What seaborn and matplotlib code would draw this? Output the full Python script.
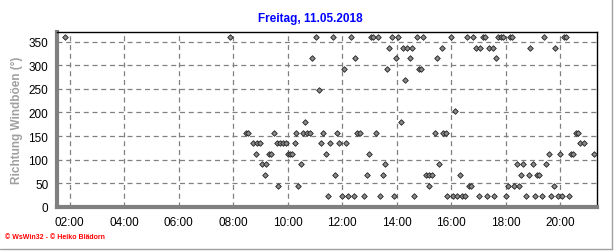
import matplotlib
matplotlib.use("Agg")
import matplotlib.pyplot as plt
import seaborn as sns
import pandas as pd
from matplotlib.ticker import MultipleLocator, FixedLocator
from matplotlib.lines import Line2D

title = "Freitag, 11.05.2018"
ylabel = "Richtung Windböen (°)"
footer = "© WsWin32 - © Heiko Blädorn"

hours = [1.81, 7.90, 8.48, 8.55, 8.73, 8.82, 8.88, 8.99, 9.06, 9.15, 9.21, 9.33, 9.40, 9.48,
         9.60, 9.66, 9.72, 9.83, 9.93, 10.00, 10.07, 10.15, 10.25, 10.32, 10.39, 10.49, 10.58,
         10.65, 10.71, 10.82, 10.90, 11.05, 11.16, 11.24, 11.31, 11.42, 11.49, 11.57, 11.65,
         11.75, 11.82, 11.90, 12.01, 12.08, 12.14, 12.22, 12.34, 12.42, 12.48, 12.56, 12.67,
         12.81, 12.92, 13.00, 13.07, 13.14, 13.25, 13.32, 13.40, 13.48, 13.58, 13.66, 13.73,
         13.83, 13.92, 13.98, 14.05, 14.17, 14.22, 14.32, 14.39, 14.50, 14.56, 14.65, 14.76,
         14.81, 14.90, 14.97, 15.08, 15.17, 15.20, 15.31, 15.42, 15.48, 15.56, 15.67, 15.71,
         15.81, 15.86, 16.01, 16.05, 16.15, 16.23, 16.32, 16.40, 16.49, 16.59, 16.67, 16.74,
         16.80, 16.93, 17.01, 17.06, 17.17, 17.24, 17.31, 17.40, 17.52, 17.59, 17.65, 17.73,
         17.83, 17.91, 18.01, 18.10, 18.16, 18.25, 18.30, 18.42, 18.50, 18.57, 18.64, 18.76,
         18.84, 18.91, 19.01, 19.07, 19.15, 19.24, 19.34, 19.41, 19.48, 19.60, 19.68, 19.76,
         19.82, 19.91, 20.01, 20.06, 20.13, 20.23, 20.34, 20.40, 20.49, 20.60, 20.67, 20.74,
         20.87, 21.25]

directions = [360, 360, 157.5, 157.5, 135, 112.5, 135, 135, 90, 67.5, 90, 112.5, 112.5, 157.5,
              135, 45, 135, 135, 135, 112.5, 112.5, 112.5, 135, 157.5, 45, 90, 157.5,
              180, 157.5, 157.5, 315, 360, 247.5, 135, 157.5, 112.5, 22.5, 135, 360,
              67.5, 157.5, 135, 22.5, 292.5, 135, 22.5, 360, 22.5, 315, 157.5, 157.5,
              22.5, 67.5, 112.5, 360, 360, 157.5, 360, 22.5, 67.5, 90, 292.5, 337.5,
              360, 22.5, 315, 360, 180, 337.5, 270, 337.5, 315, 337.5, 22.5, 360,
              292.5, 292.5, 360, 67.5, 45, 67.5, 67.5, 157.5, 315, 90, 337.5, 157.5,
              157.5, 22.5, 360, 22.5, 202.5, 22.5, 67.5, 22.5, 22.5, 360, 45, 45,
              360, 337.5, 22.5, 337.5, 360, 360, 22.5, 337.5, 337.5, 22.5, 315, 360,
              360, 360, 22.5, 45, 360, 360, 45, 90, 45, 67.5, 90, 22.5,
              67.5, 337.5, 90, 22.5, 67.5, 67.5, 22.5, 360, 90, 112.5, 22.5, 45,
              337.5, 22.5, 112.5, 22.5, 360, 360, 22.5, 112.5, 112.5, 157.5, 157.5, 135,
              135, 112.5]

xticks = [2, 4, 6, 8, 10, 12, 14, 16, 18, 20]
xticklabels = ["02:00", "04:00", "06:00", "08:00", "10:00", "12:00", "14:00", "16:00", "18:00", "20:00"]
yticks = [0, 50, 100, 150, 200, 250, 300, 350]

df = pd.DataFrame({"Zeit": hours, "Richtung": directions})

sns.set_style("white")
plt.rcParams["font.family"] = ["Liberation Sans", "DejaVu Sans"]

fig = plt.figure(figsize=(6.16, 2.53), dpi=100)
ax = fig.add_axes([0.092, 0.179, 0.877, 0.689])

sns.scatterplot(data=df, x="Zeit", y="Richtung", ax=ax, marker="D", s=8,
                color="#8a8a8a", edgecolor="#202020", linewidth=0.6, legend=False, zorder=3)

ax.set_xlim(1.52, 21.35)
ax.set_ylim(0, 370)
ax.xaxis.set_major_locator(FixedLocator(xticks))
ax.set_xticklabels(xticklabels)
ax.xaxis.set_minor_locator(MultipleLocator(0.5))
ax.yaxis.set_major_locator(FixedLocator(yticks))
ax.yaxis.set_minor_locator(MultipleLocator(25))

ax.grid(True, which="major", color="#808080", linestyle=(0, (4, 3)), linewidth=0.9)
ax.set_axisbelow(True)

for s in ["left", "bottom"]:
    ax.spines[s].set_color("#808080")
    ax.spines[s].set_linewidth(3)
for s in ["top", "right"]:
    ax.spines[s].set_color("black")
    ax.spines[s].set_linewidth(1)

ax.tick_params(axis="both", which="both", direction="out", color="#808080", width=1)
ax.tick_params(axis="x", which="major", length=4, labelsize=8.5, pad=3, labelcolor="black")
ax.tick_params(axis="x", which="minor", length=4)
ax.tick_params(axis="y", which="major", length=4, labelsize=8.5, pad=2, labelcolor="black")
ax.tick_params(axis="y", which="minor", length=2)

ax.set_xlabel("")
ax.set_ylabel(ylabel, color="#a0a0a0", fontsize=8.5, fontweight="bold", labelpad=4)

fig.text(0.503, 0.925, title, color="#0000ff", fontsize=8.5, fontweight="bold",
         ha="center", va="center")
fig.text(0.008, 0.06, footer, color="#ff0000", fontsize=5, fontweight="bold",
         ha="left", va="center")

# outer frame (right / bottom)
fig.add_artist(Line2D([0.994, 0.994], [0.012, 1.0], transform=fig.transFigure, color="#a0a0a0", lw=1))
fig.add_artist(Line2D([0.0, 0.994], [0.012, 0.012], transform=fig.transFigure, color="#a0a0a0", lw=1))

fig.savefig("out.png", dpi=100, facecolor="white")
